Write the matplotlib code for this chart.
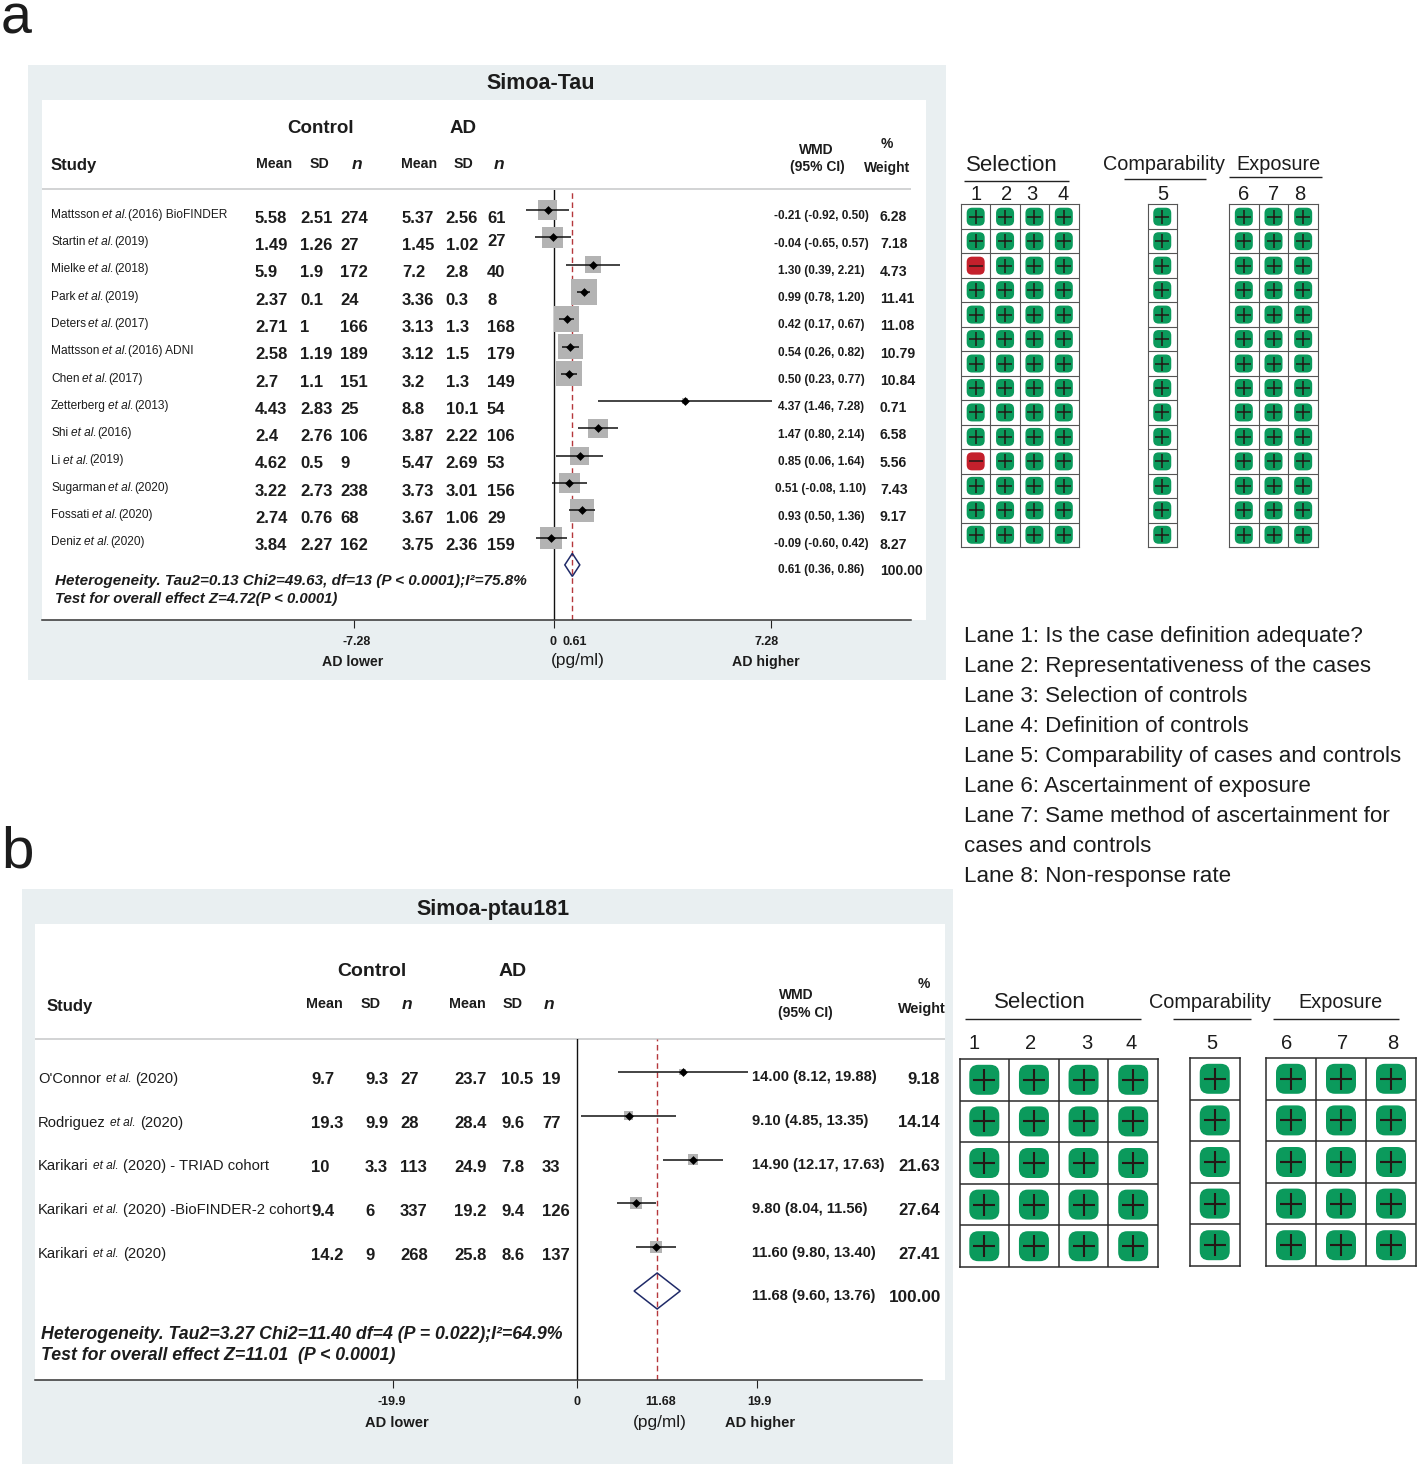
import matplotlib
matplotlib.use("Agg")
import matplotlib.pyplot as plt
from matplotlib.patches import Rectangle, FancyBboxPatch, Polygon
from matplotlib.transforms import ScaledTranslation
import numpy as np

plt.rcParams['font.family'] = ['Liberation Sans', 'DejaVu Sans']

# ---------- data: panel a ----------
authors_a = ['Mattsson', 'Startin', 'Mielke', 'Park', 'Deters', 'Mattsson', 'Chen',
             'Zetterberg', 'Shi', 'Li', 'Sugarman', 'Fossati', 'Deniz']
suffix_a = ['(2016) BioFINDER', '(2019)', '(2018)', '(2019)', '(2017)', '(2016) ADNI', '(2017)',
            '(2013)', '(2016)', '(2019)', '(2020)', '(2020)', '(2020)']
ctrl_mean_a = ['5.58', '1.49', '5.9', '2.37', '2.71', '2.58', '2.7', '4.43', '2.4', '4.62', '3.22', '2.74', '3.84']
ctrl_sd_a = ['2.51', '1.26', '1.9', '0.1', '1', '1.19', '1.1', '2.83', '2.76', '0.5', '2.73', '0.76', '2.27']
ctrl_n_a = ['274', '27', '172', '24', '166', '189', '151', '25', '106', '9', '238', '68', '162']
ad_mean_a = ['5.37', '1.45', '7.2', '3.36', '3.13', '3.12', '3.2', '8.8', '3.87', '5.47', '3.73', '3.67', '3.75']
ad_sd_a = ['2.56', '1.02', '2.8', '0.3', '1.3', '1.5', '1.3', '10.1', '2.22', '2.69', '3.01', '1.06', '2.36']
ad_n_a = ['61', '27', '40', '8', '168', '179', '149', '54', '106', '53', '156', '29', '159']
wmd_a = [-0.21, -0.04, 1.30, 0.99, 0.42, 0.54, 0.50, 4.37, 1.47, 0.85, 0.51, 0.93, -0.09]
low_a = [-0.92, -0.65, 0.39, 0.78, 0.17, 0.26, 0.23, 1.46, 0.80, 0.06, -0.08, 0.50, -0.60]
high_a = [0.50, 0.57, 2.21, 1.20, 0.67, 0.82, 0.77, 7.28, 2.14, 1.64, 1.10, 1.36, 0.42]
weight_a = [6.28, 7.18, 4.73, 11.41, 11.08, 10.79, 10.84, 0.71, 6.58, 5.56, 7.43, 9.17, 8.27]
pooled_a = (0.61, 0.36, 0.86, 100.00)

# ---------- data: panel b ----------
authors_b = ["O'Connor", 'Rodriguez', 'Karikari', 'Karikari', 'Karikari']
suffix_b = ['(2020)', '(2020)', '(2020) - TRIAD cohort', '(2020) -BioFINDER-2 cohort', '(2020)']
ctrl_mean_b = ['9.7', '19.3', '10', '9.4', '14.2']
ctrl_sd_b = ['9.3', '9.9', '3.3', '6', '9']
ctrl_n_b = ['27', '28', '113', '337', '268']
ad_mean_b = ['23.7', '28.4', '24.9', '19.2', '25.8']
ad_sd_b = ['10.5', '9.6', '7.8', '9.4', '8.6']
ad_n_b = ['19', '77', '33', '126', '137']
wmd_b = [14.00, 9.10, 14.90, 9.80, 11.60]
low_b = [8.12, 4.85, 12.17, 8.04, 9.80]
high_b = [19.88, 13.35, 17.63, 11.56, 13.40]
weight_b = [9.18, 14.14, 21.63, 27.64, 27.41]
pooled_b = (11.68, 9.60, 13.76, 100.00)

# ---------- data: quality assessment ----------
sel_a = [[1, 1, 1, 1], [1, 1, 1, 1], [-1, 1, 1, 1], [1, 1, 1, 1], [1, 1, 1, 1], [1, 1, 1, 1], [1, 1, 1, 1],
         [1, 1, 1, 1], [1, 1, 1, 1], [1, 1, 1, 1], [-1, 1, 1, 1], [1, 1, 1, 1], [1, 1, 1, 1], [1, 1, 1, 1]]
comp_a = [[1]] * 14
expo_a = [[1, 1, 1]] * 14
sel_b = [[1, 1, 1, 1]] * 5
comp_b = [[1]] * 5
expo_b = [[1, 1, 1]] * 5
lanes = ['Lane 1: Is the case definition adequate?',
         'Lane 2: Representativeness of the cases',
         'Lane 3: Selection of controls',
         'Lane 4: Definition of controls',
         'Lane 5: Comparability of cases and controls',
         'Lane 6: Ascertainment of exposure',
         'Lane 7: Same method of ascertainment for',
         'cases and controls',
         'Lane 8: Non-response rate']
het_a = ['Heterogeneity. Tau2=0.13 Chi2=49.63, df=13 (P < 0.0001);I²=75.8%',
         'Test for overall effect Z=4.72(P < 0.0001)']
het_b = ['Heterogeneity. Tau2=3.27 Chi2=11.40 df=4 (P = 0.022);I²=64.9%',
         'Test for overall effect Z=11.01  (P < 0.0001)']

# ---------- layout ----------
W, H = 1418, 1466
fig = plt.figure(figsize=(W / 100, H / 100), dpi=100, facecolor='white')
bg = fig.add_axes([0, 0, 1, 1], zorder=0)
bg.set_xlim(0, W)
bg.set_ylim(H, 0)
bg.axis('off')
renderer = fig.canvas.get_renderer()
INK = '#1c1c1c'
PANEL = '#e9eff1'


def T(x, y, s, size=10, weight='normal', style='normal', ha='left', color=INK):
    """Text whose digit/capital centre sits at pixel row y."""
    return bg.text(x, y + 0.36 * size * 100 / 72, s, fontsize=size, fontweight=weight,
                   fontstyle=style, ha=ha, va='baseline', color=color)


def rich(x, y, parts):
    for s, size, style, gap in parts:
        t = T(x, y, s, size=size, style=style)
        x += t.get_window_extent(renderer).width + gap


def hline(x0, x1, y, color='#222222', lw=1.0):
    bg.plot([x0, x1], [y, y], color=color, lw=lw, solid_capstyle='butt')


def px_axes(l, t, r, b, z=2):
    return fig.add_axes([l / W, 1 - b / H, (r - l) / W, (b - t) / H], zorder=z, facecolor='none')


def forest(box, x0, xs, y0, ys, wmd, low, high, weight, pooled, null, k, ticks, ticklabels, tick_dx,
           minor_dx, mark, lw, half):
    l, t, r, b = box
    ax = px_axes(l, t, r, b)
    ax.set_xlim((l - x0) / xs, (r - x0) / xs)
    ax.set_ylim((b - y0) / ys, (t - y0) / ys)
    rows = np.arange(len(wmd))
    sides = k * np.sqrt(np.array(weight)) * 72 / 100
    ax.scatter(wmd, rows, s=sides ** 2, marker='s', color='#b3b3b3', linewidths=0, zorder=2)
    ax.hlines(rows, low, high, color='#111111', lw=lw, zorder=3)
    ax.scatter(wmd, rows, s=mark, marker='D', color='black', linewidths=0, zorder=4)
    ax.axvline(null, color='#111111', lw=1.0, zorder=1)
    ax.axvline(pooled[0], color='#b5373b', lw=1.0, dashes=(4, 2.6), zorder=1.5)
    n = len(wmd)
    ax.add_patch(Polygon([(pooled[1], n), (pooled[0], n - half / ys), (pooled[2], n),
                          (pooled[0], n + half / ys)], closed=True, fill=False,
                         edgecolor='#1f2a68', lw=1.1, zorder=5))
    for s in ('top', 'left', 'right'):
        ax.spines[s].set_visible(False)
    ax.spines['bottom'].set_linewidth(1.1)
    ax.spines['bottom'].set_color('#333333')
    ax.set_yticks([])
    ax.set_xticks(ticks, labels=ticklabels)
    ax.set_xticks([pooled[0]], labels=[f'{pooled[0]:g}'], minor=True)
    ax.tick_params(axis='x', which='major', length=5.8, width=0.8, color='#222222', pad=6,
                   labelsize=9, labelcolor=INK)
    ax.tick_params(axis='x', which='minor', length=0, pad=11.8, labelsize=9, labelcolor=INK)
    for lab, dx in zip(ax.get_xticklabels(), tick_dx):
        lab.set_fontweight('bold')
        lab.set_transform(lab.get_transform() + ScaledTranslation(dx / 100, 0, fig.dpi_scale_trans))
    for lab in ax.get_xticklabels(minor=True):
        lab.set_fontweight('bold')
        lab.set_transform(lab.get_transform() + ScaledTranslation(minor_dx / 100, 0, fig.dpi_scale_trans))
    return ax


def nos(box, signs, bw, bh, cross, lw, grid_c, grid_lw):
    l, t, r, b = box
    ax = px_axes(l, t, r, b)
    signs = np.array(signs)
    nr, nc = signs.shape
    cw, ch = (r - l) / nc, (b - t) / nr
    ax.set_xlim(0, nc)
    ax.set_ylim(nr, 0)
    ax.set_xticks(np.arange(1, nc))
    ax.set_yticks(np.arange(1, nr))
    ax.tick_params(length=0, labelbottom=False, labelleft=False)
    ax.grid(True, color=grid_c, lw=grid_lw, zorder=1)
    ax.set_axisbelow(True)
    for s in ax.spines.values():
        s.set_color(grid_c)
        s.set_linewidth(grid_lw)
    w, h = bw / cw, bh / ch
    for i in range(nr):
        for j in range(nc):
            pos = signs[i, j] > 0
            ax.add_patch(FancyBboxPatch((j + .5 - w / 2, i + .5 - h / 2), w, h,
                                        boxstyle=f'round,pad=0,rounding_size={0.3 * bw / cw}',
                                        mutation_aspect=cw / ch,
                                        facecolor='#0b9a5c' if pos else '#c4202c',
                                        edgecolor='none', zorder=2))
            ax.plot([j + .5], [i + .5], marker='+' if pos else '_', ms=cross * 72 / 100, mew=lw,
                    color='#231815', zorder=3)


# ---------- panel letters ----------
T(1, 13, 'a', size=40)
T(1, 846, 'b', size=42)

# ---------- panel a ----------
bg.add_patch(Rectangle((28, 65), 918, 615, fc=PANEL, ec='none'))
bg.add_patch(Rectangle((42, 100), 884, 520, fc='white', ec='none'))
T(541, 81, 'Simoa-Tau', size=15.5, weight='bold', ha='center')
T(321, 126, 'Control', size=13.5, weight='bold', ha='center')
T(463, 126, 'AD', size=13.5, weight='bold', ha='center')
T(51, 164, 'Study', size=12, weight='bold')
for xc, s, st in [(274, 'Mean', 'normal'), (319, 'SD', 'normal'), (357, 'n', 'italic'),
                  (419, 'Mean', 'normal'), (463, 'SD', 'normal'), (499, 'n', 'italic')]:
    T(xc, 163, s, size=10.2 if st == 'normal' else 12.5, weight='bold', style=st, ha='center')
T(816, 149, 'WMD', size=10, weight='bold', ha='center')
T(817, 166, '(95% CI)', size=10, weight='bold', ha='center')
T(887, 143, '%', size=10, weight='bold', ha='center')
T(887, 167, 'Weight', size=10, weight='bold', ha='center')
hline(42, 911, 189, color='#c6c8c9', lw=1.1)

for i, (au, su) in enumerate(zip(authors_a, suffix_a)):
    yr = 210 + 27.3 * i
    rich(51, yr + 3.5, [(au, 8.6, 'normal', 2.5), ('et al.', 8.6, 'italic', 0.5), (su, 8.6, 'normal', 0)])
    for x, col in [(255, ctrl_mean_a), (300, ctrl_sd_a), (340, ctrl_n_a), (402, ad_mean_a), (445.7, ad_sd_a),
                   (487, ad_n_a)]:
        dy = -4 if (col is ad_n_a and i == 1) else 0
        T(x, yr + 6.8 + dy, col[i], size=12, weight='bold')
    T(821, yr + 5, f'{wmd_a[i]:.2f} ({low_a[i]:.2f}, {high_a[i]:.2f})', size=8.5, weight='bold', ha='center')
    T(880, yr + 6, f'{weight_a[i]:.2f}', size=10.1, weight='bold')
T(821, 569, f'{pooled_a[0]:.2f} ({pooled_a[1]:.2f}, {pooled_a[2]:.2f})', size=8.5, weight='bold', ha='center')
T(880, 570, f'{pooled_a[3]:.2f}', size=10.1, weight='bold')
T(55, 580, het_a[0], size=10.95, weight='bold', style='italic')
T(55, 598, het_a[1], size=10.75, weight='bold', style='italic')
T(353, 661, 'AD lower', size=10.2, weight='bold', ha='center')
T(578, 659, '(pg/ml)', size=12.4, ha='center')
T(766, 661, 'AD higher', size=10.2, weight='bold', ha='center')
forest((42, 190, 911, 620), 554, 30, 210, 27.3, wmd_a, low_a, high_a, weight_a, pooled_a, 0, 7.7,
       [-6.67, 0, 7.23], ['-7.28', '0', '7.28'], [3, -1, -4], 2, 20, 1.1, 11.5)

# ---------- panel a quality grid ----------
nos((961, 204.5, 1078.5, 547), sel_a, 18, 18, 14, 1.1, '#555555', 0.8)
nos((1147.5, 204.5, 1177, 547), comp_a, 18, 18, 14, 1.1, '#555555', 0.8)
nos((1229, 204.5, 1318, 547), expo_a, 18, 18, 14, 1.1, '#555555', 0.8)
T(1012, 163, 'Selection', size=16, ha='center')
T(1163.5, 163, 'Comparability', size=14.3, ha='center')
T(1278, 163, 'Exposure', size=14.3, ha='center')
hline(964, 1069, 180.5)
hline(1124, 1206, 178.5)
hline(1229, 1322, 177)
for x, s in [(976, '1'), (1007, '2'), (1032, '3'), (1063, '4'), (1163, '5'), (1244, '6'), (1274, '7'), (1300, '8')]:
    T(x, 193, s, size=14.5, ha='center')
for i, s in enumerate(lanes):
    T(964, 634 + 30 * i, s, size=16.1)

# ---------- panel b ----------
bg.add_patch(Rectangle((22, 889), 931, 575, fc=PANEL, ec='none'))
bg.add_patch(Rectangle((35, 924), 910, 456, fc='white', ec='none'))
T(493, 907.5, 'Simoa-ptau181', size=15.5, weight='bold', ha='center')
T(372, 969, 'Control', size=14, weight='bold', ha='center')
T(513, 969, 'AD', size=14, weight='bold', ha='center')
T(47, 1005, 'Study', size=12, weight='bold')
for xc, s, st in [(324.5, 'Mean', 'normal'), (371, 'SD', 'normal'), (407, 'n', 'italic'),
                  (467.5, 'Mean', 'normal'), (513, 'SD', 'normal'), (549, 'n', 'italic')]:
    T(xc, 1003, s, size=10.4 if st == 'normal' else 12.5, weight='bold', style=st, ha='center')
T(779, 994, 'WMD', size=10, weight='bold')
T(778, 1012, '(95% CI)', size=10, weight='bold')
T(924, 983, '%', size=10, weight='bold', ha='center')
T(922, 1008, 'Weight', size=10.4, weight='bold', ha='center')
hline(35, 945, 1039, color='#c6c8c9', lw=1.1)

for i, (au, su) in enumerate(zip(authors_b, suffix_b)):
    yr = 1072 + 43.8 * i
    rich(38, yr + 5.5, [(au, 10.6, 'normal', 4.5), ('et al.', 8.6, 'italic', 4.5), (su, 10.6, 'normal', 0)])
    for x, col in [(311.5, ctrl_mean_b), (365, ctrl_sd_b), (400, ctrl_n_b), (454, ad_mean_b), (501, ad_sd_b),
                   (542, ad_n_b)]:
        T(x, yr + 6.5, col[i], size=12, weight='bold')
    T(752, yr + 4, f'{wmd_b[i]:.2f} ({low_b[i]:.2f}, {high_b[i]:.2f})', size=10.6, weight='bold')
    T(940, yr + 5.5, f'{weight_b[i]:.2f}', size=12, weight='bold', ha='right')
T(752, 1295, f'{pooled_b[0]:.2f} ({pooled_b[1]:.2f}, {pooled_b[2]:.2f})', size=10.6, weight='bold')
T(941, 1296, f'{pooled_b[3]:.2f}', size=12.3, weight='bold', ha='right')
T(41, 1333, het_b[0], size=12.75, weight='bold', style='italic')
T(41, 1354, het_b[1], size=12.75, weight='bold', style='italic')
T(397, 1422, 'AD lower', size=10.5, weight='bold', ha='center')
T(660, 1421, '(pg/ml)', size=12.4, ha='center')
T(760, 1422, 'AD higher', size=10.5, weight='bold', ha='center')
# the reference draws its null line at 4.5 on the scale of its own effect sizes
forest((35, 1039, 922, 1380), 527.5, 11.1, 1072, 43.8, wmd_b, low_b, high_b, weight_b, pooled_b, 4.5, 2.3,
       [-12.1, 4.5, 20.7], ['-19.9', '0', '19.9'], [-1.5, 0, 2], 3.5, 20, 1.1, 18)

# ---------- panel b quality grid ----------
nos((959.5, 1059, 1158, 1267), sel_b, 30, 30, 23, 1.5, '#2b2b2b', 1.1)
nos((1189.5, 1058, 1240, 1266), comp_b, 30, 30, 23, 1.5, '#2b2b2b', 1.1)
nos((1266, 1058, 1416, 1266), expo_b, 30, 30, 23, 1.5, '#2b2b2b', 1.1)
T(1040, 1000, 'Selection', size=16, ha='center')
T(1210, 1001, 'Comparability', size=14.3, ha='center')
T(1341, 1001, 'Exposure', size=14.3, ha='center')
hline(965, 1141, 1018.5)
hline(1173, 1251, 1018.5)
hline(1273, 1399, 1018.5)
for x, s in [(974, '1'), (1031, '2'), (1087, '3'), (1131, '4'), (1212, '5'), (1287, '6'), (1343, '7'), (1393, '8')]:
    T(x, 1042, s, size=14.5, ha='center')

fig.savefig('out.png', dpi=100)
